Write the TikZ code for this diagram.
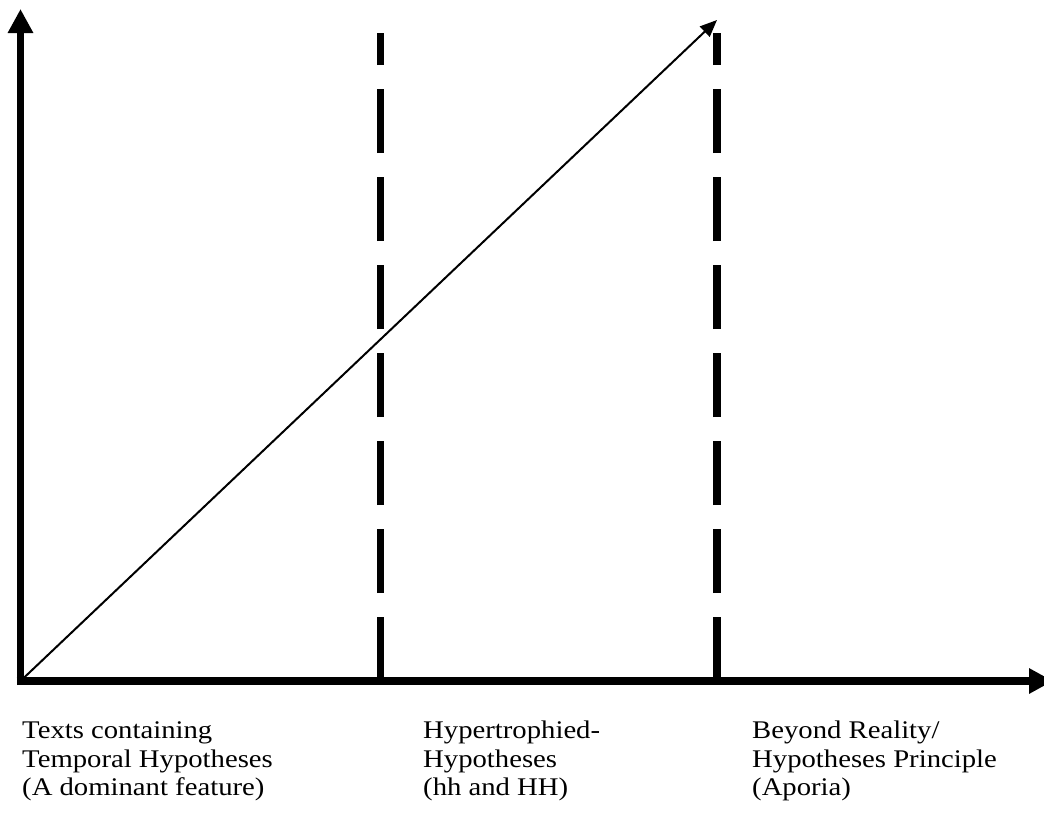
\documentclass[tikz,border=0pt]{standalone}
\usepackage{fontspec}
\setmainfont{Liberation Serif}[FakeStretch=1.13]
\usepackage{tikz}
\usetikzlibrary{arrows.meta, positioning}

\tikzset{
 axis/.style={line width=7.5pt, -{Triangle[length=24pt, width=24pt]}},
 border/.style={line width=7.5pt, dash pattern=on 64pt off 24pt},
 trend/.style={line width=2pt, -{Triangle[length=17pt, width=14pt]}},
 caption/.style={anchor=base west, inner sep=0pt, align=left, font=\fontsize{25.4}{28.6}\selectfont}
}

\begin{document}
\begin{tikzpicture}[x=1pt, y=-1pt]
 \useasboundingbox (0, 0) rectangle (1044, 812);
 \coordinate (origin) at (20.5, 681);
 \coordinate (ystart) at (20.5, 685);
 \coordinate (xstart) at (16.5, 681);
 \coordinate (ytop) at (20.5, 9);
 \coordinate (xend) at (1053, 681);
 \coordinate (peak) at (717, 20);
 \coordinate (hyperbot) at (380.5, 681);
 \coordinate (hypertop) at (380.5, 33);
 \coordinate (beyondbot) at (717, 681);
 \coordinate (beyondtop) at (717, 33);
 \draw[axis] (ystart) -- (ytop);
 \draw[axis] (xstart) -- (xend);
 \draw[border] (hyperbot) -- (hypertop);
 \draw[border] (beyondbot) -- (beyondtop);
 \draw[trend] (origin) -- (peak);
 % base of a multi-line caption is its last line
 \node[caption] (txttemporal) at (22, 795.7) {Texts containing\\Temporal Hypotheses\\(A dominant feature)};
 \node[caption] (txthyper) at (423, 795.7) {Hypertrophied-\\Hypotheses\\(hh and HH)};
 \node[caption] (txtbeyond) at (752, 795.7) {Beyond Reality/\\Hypotheses Principle\\(Aporia)};
\end{tikzpicture}
\end{document}
